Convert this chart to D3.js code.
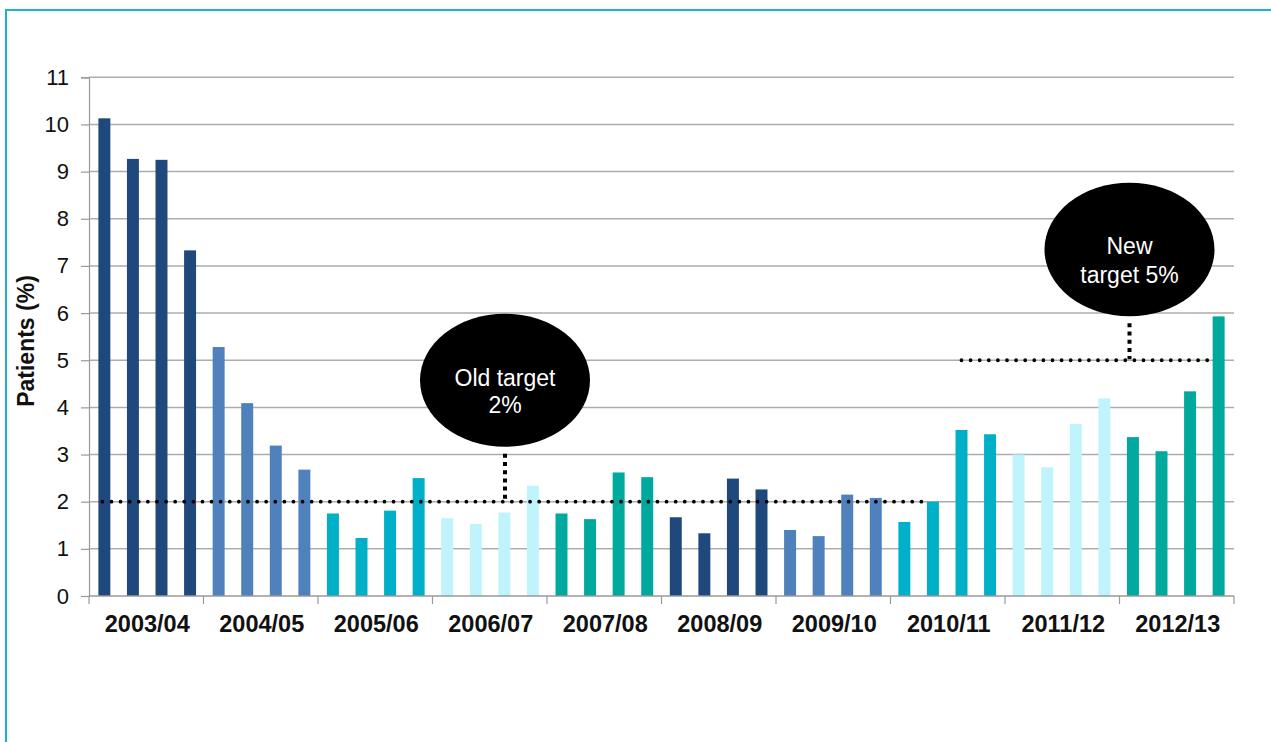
<!DOCTYPE html>
<html>
<head>
<meta charset="utf-8">
<script src="https://cdn.jsdelivr.net/npm/d3@7"></script>
<style>
  html, body { margin: 0; padding: 0; background: #fff; }
  svg { display: block; font-family: Arial, "Liberation Sans", sans-serif; }
</style>
</head>
<body>
<svg id="chart" width="1271" height="742"></svg>
<script>
// ---- data ----
const years = ["2003/04","2004/05","2005/06","2006/07","2007/08","2008/09","2009/10","2010/11","2011/12","2012/13"];
const quarters = ["Q1","Q2","Q3","Q4"];
const values = [
  10.13, 9.27, 9.25, 7.33,
  5.28, 4.09, 3.19, 2.68,
  1.75, 1.23, 1.81, 2.50,
  1.65, 1.53, 1.77, 2.34,
  1.75, 1.63, 2.62, 2.52,
  1.67, 1.33, 2.49, 2.26,
  1.40, 1.27, 2.15, 2.08,
  1.57, 2.00, 3.52, 3.43,
  3.00, 2.73, 3.65, 4.19,
  3.37, 3.07, 4.34, 5.93
];
const yearColors = ["#1F497D","#4F81BD","#00AFC8","#C0F4FC","#00A99D","#1F497D","#4F81BD","#00AFC8","#C0F4FC","#00A99D"];
const yTicks = [0,1,2,3,4,5,6,7,8,9,10,11];
const targetLabels = [["Old target","2%"],["New","target 5%"]];
const targetValues = [2, 5];
const targetFrom = [0, 30];   // bar index where each target line starts
const targetTo = [29, 39];    // bar index where each target line ends

// ---- layout ----
const svg = d3.select("#chart");
const plotLeft = 89, plotRight = 1234, plotTop = 77.3, plotBottom = 596;

const points = values.map((v, i) => ({
  idx: i, value: v,
  year: years[Math.floor(i / 4)],
  color: yearColors[Math.floor(i / 4)]
}));

const x = d3.scaleBand().domain(d3.range(values.length)).range([plotLeft, plotRight])
  .paddingInner(0.581).paddingOuter(0.328);
const xYear = d3.scaleBand().domain(years).range([plotLeft, plotRight]).padding(0);
const y = d3.scaleLinear().domain([0, 11]).range([plotBottom, plotTop]);

// frame border
svg.append("rect").attr("x", 6).attr("y", 10).attr("width", 1400).attr("height", 900)
  .attr("fill", "none").attr("stroke", "#1CB3CB").attr("stroke-width", 2);

// gridlines
svg.append("g").selectAll("line").data(yTicks.filter(t => t > 0)).join("line")
  .attr("x1", plotLeft).attr("x2", plotRight)
  .attr("y1", d => y(d)).attr("y2", d => y(d))
  .attr("stroke", "#ADADAD").attr("stroke-width", 1.5);

// y axis
const yAxis = svg.append("g").attr("transform", `translate(${plotLeft},0)`)
  .call(d3.axisLeft(y).tickValues(yTicks).tickSize(8).tickPadding(12).tickFormat(d3.format("d")));
yAxis.select(".domain").attr("stroke", "#999").attr("stroke-width", 1.2);
yAxis.selectAll(".tick line").attr("stroke", "#999").attr("stroke-width", 1.2);
yAxis.selectAll(".tick text").attr("font-size", 22).attr("fill", "#111")
  .attr("font-family", "Arial, 'Liberation Sans', sans-serif");

// bars
svg.append("g").selectAll("rect").data(points).join("rect")
  .attr("x", d => x(d.idx)).attr("width", x.bandwidth())
  .attr("y", d => y(d.value)).attr("height", d => y(0) - y(d.value))
  .attr("fill", d => d.color);

// x axis
const xAxisG = svg.append("g").attr("transform", `translate(0,${plotBottom})`);
xAxisG.append("line").attr("x1", plotLeft).attr("x2", plotRight).attr("y1", 0).attr("y2", 0)
  .attr("stroke", "#999").attr("stroke-width", 1.5);
const boundaries = years.map(yy => xYear(yy)).concat([plotRight]);
xAxisG.selectAll("line.tk").data(boundaries).join("line").attr("class", "tk")
  .attr("x1", d => d).attr("x2", d => d).attr("y1", 0).attr("y2", 8)
  .attr("stroke", "#999").attr("stroke-width", 1.2);
xAxisG.selectAll("text").data(years).join("text")
  .attr("x", d => xYear(d) + xYear.bandwidth() / 2 + 1)
  .attr("y", 36)
  .attr("text-anchor", "middle")
  .attr("font-size", 23.5).attr("font-weight", "bold").attr("fill", "#111")
  .text(d => d);

// y axis title
svg.append("text")
  .attr("transform", "translate(34,341) rotate(-90)")
  .attr("text-anchor", "middle")
  .attr("font-size", 23).attr("font-weight", "bold").attr("fill", "#111")
  .text("Patients (%)");

// target lines
targetValues.forEach((tv, k) => {
  const x1 = k === 0 ? x(targetFrom[k]) + x.bandwidth() / 2 - 2 : x(targetFrom[k]) + x.bandwidth() / 2;
  const x2 = x(targetTo[k]);
  svg.append("line")
    .attr("x1", x1).attr("x2", x2)
    .attr("y1", y(tv)).attr("y2", y(tv))
    .attr("stroke", "#000").attr("stroke-width", 3.8)
    .attr("stroke-linecap", "round").attr("stroke-dasharray", "0 9.1");
});

// callouts
const callouts = [
  { cx: 505, cy: 380.3, rx: 85, ry: 66.5, tv: targetValues[0], lines: targetLabels[0], ty: [378, 405] },
  { cx: 1129.5, cy: 249.5, rx: 85, ry: 66.8, tv: targetValues[1], lines: targetLabels[1], ty: [246, 275] }
];
callouts.forEach(c => {
  svg.append("line")
    .attr("x1", c.cx).attr("x2", c.cx)
    .attr("y1", c.cy + c.ry + 7).attr("y2", y(c.tv) - 1)
    .attr("stroke", "#000").attr("stroke-width", 4)
    .attr("stroke-dasharray", "4 4.2");
  svg.append("ellipse").attr("cx", c.cx).attr("cy", c.cy).attr("rx", c.rx).attr("ry", c.ry)
    .attr("fill", "#000");
  c.lines.forEach((ln, i) => {
    svg.append("text").attr("x", c.cx).attr("y", c.ty[i])
      .attr("text-anchor", "middle").attr("dominant-baseline", "central")
      .attr("font-size", 23).attr("fill", "#fff")
      .text(ln);
  });
});
</script>
</body>
</html>
